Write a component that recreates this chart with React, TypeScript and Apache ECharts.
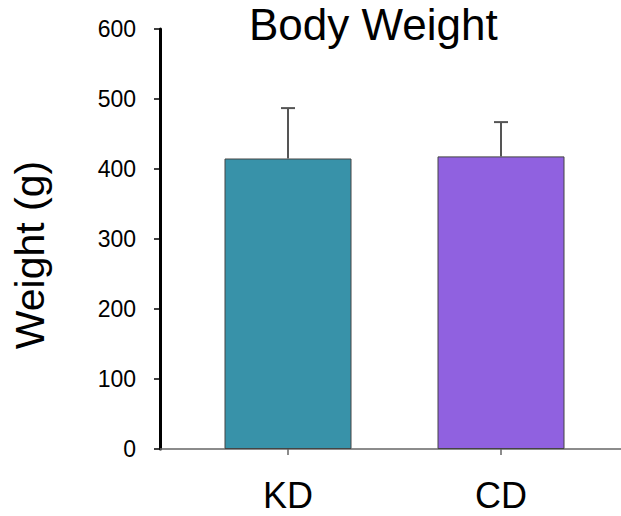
import React, { useEffect, useRef } from "react";
import * as echarts from "echarts";

const categories = ["KD", "CD"];
const means = [415, 418];
const errorTops = [487, 467];
const barColors = ["#3892A9", "#9061E0"];
const yTicks = { min: 0, max: 600, interval: 100 };
const yAxisTitle = "Weight (g)";
const chartTitle = "Body Weight";

const FONT = "'Liberation Sans', Arial, Helvetica, sans-serif";

export default function App() {
  const ref = useRef<HTMLDivElement>(null);
  useEffect(() => {
    if (!ref.current) return;
    const chart = echarts.init(ref.current, null, { renderer: "svg" });
    const errData = categories.map((c, i) => [i, means[i], errorTops[i]]);
    chart.setOption({
      animation: false,
      backgroundColor: "#ffffff",
      textStyle: { fontFamily: FONT },
      title: {
        text: chartTitle,
        left: 249,
        top: 2,
        padding: 0,
        textStyle: { fontFamily: FONT, fontSize: 44, fontWeight: "normal", color: "#000" },
      },
      graphic: [
        {
          type: "text",
          x: 30,
          y: 255,
          rotation: Math.PI / 2,
          style: {
            text: yAxisTitle,
            fontFamily: FONT,
            fontSize: 41,
            fill: "#000",
            align: "center",
            verticalAlign: "middle",
          },
        },
      ],
      grid: [
        { left: 181.5, right: 13.5, top: 29, bottom: 67, containLabel: false },
        { left: 160, right: 0, top: 29, bottom: 67, containLabel: false },
      ],
      xAxis: [
        {
          type: "category",
          gridIndex: 0,
          data: categories,
          axisLine: { show: false },
          axisTick: { show: true, alignWithLabel: true, length: 6, lineStyle: { color: "#666", width: 1.5 } },
          axisLabel: { fontFamily: FONT, fontSize: 36, lineHeight: 36, color: "#000", margin: 28 },
          splitLine: { show: false },
        },
        {
          type: "value",
          gridIndex: 1,
          min: 0,
          max: 1,
          axisLine: { show: true, lineStyle: { color: "#666", width: 1.5 } },
          axisTick: { show: false },
          axisLabel: { show: false },
          splitLine: { show: false },
        },
      ],
      yAxis: [
        {
          type: "value",
          gridIndex: 0,
          min: yTicks.min,
          max: yTicks.max,
          interval: yTicks.interval,
          offset: 21.5,
          axisLine: { show: true, lineStyle: { color: "#000", width: 3 } },
          axisTick: { show: true, length: 6, lineStyle: { color: "#000", width: 1.5 } },
          axisLabel: { fontFamily: FONT, fontSize: 23, color: "#000", margin: 24, padding: [5, 0, 0, 0] },
          splitLine: { show: false },
        },
        {
          type: "value",
          gridIndex: 1,
          show: false,
          min: 0,
          max: 1,
        },
      ],
      series: [
        {
          type: "bar",
          xAxisIndex: 0,
          yAxisIndex: 0,
          barWidth: 127,
          data: means.map((v, i) => ({
            value: v,
            itemStyle: { color: barColors[i], borderColor: "#444", borderWidth: 1 },
          })),
          z: 2,
        },
        {
          type: "custom",
          xAxisIndex: 0,
          yAxisIndex: 0,
          data: errData,
          z: 3,
          renderItem: (params: any, api: any) => {
            const x = api.value(0);
            const base = api.coord([x, api.value(1)]);
            const top = api.coord([x, api.value(2)]);
            const half = 7;
            const style = { stroke: "#555", lineWidth: 2 };
            return {
              type: "group",
              children: [
                { type: "line", shape: { x1: base[0], y1: base[1], x2: top[0], y2: top[1] }, style },
                { type: "line", shape: { x1: top[0] - half, y1: top[1], x2: top[0] + half, y2: top[1] }, style },
              ],
            };
          },
        },
      ],
    });
    return () => chart.dispose();
  }, []);
  return <div ref={ref} style={{ width: 621, height: 516, position: "absolute", left: 0, top: 0 }} />;
}
